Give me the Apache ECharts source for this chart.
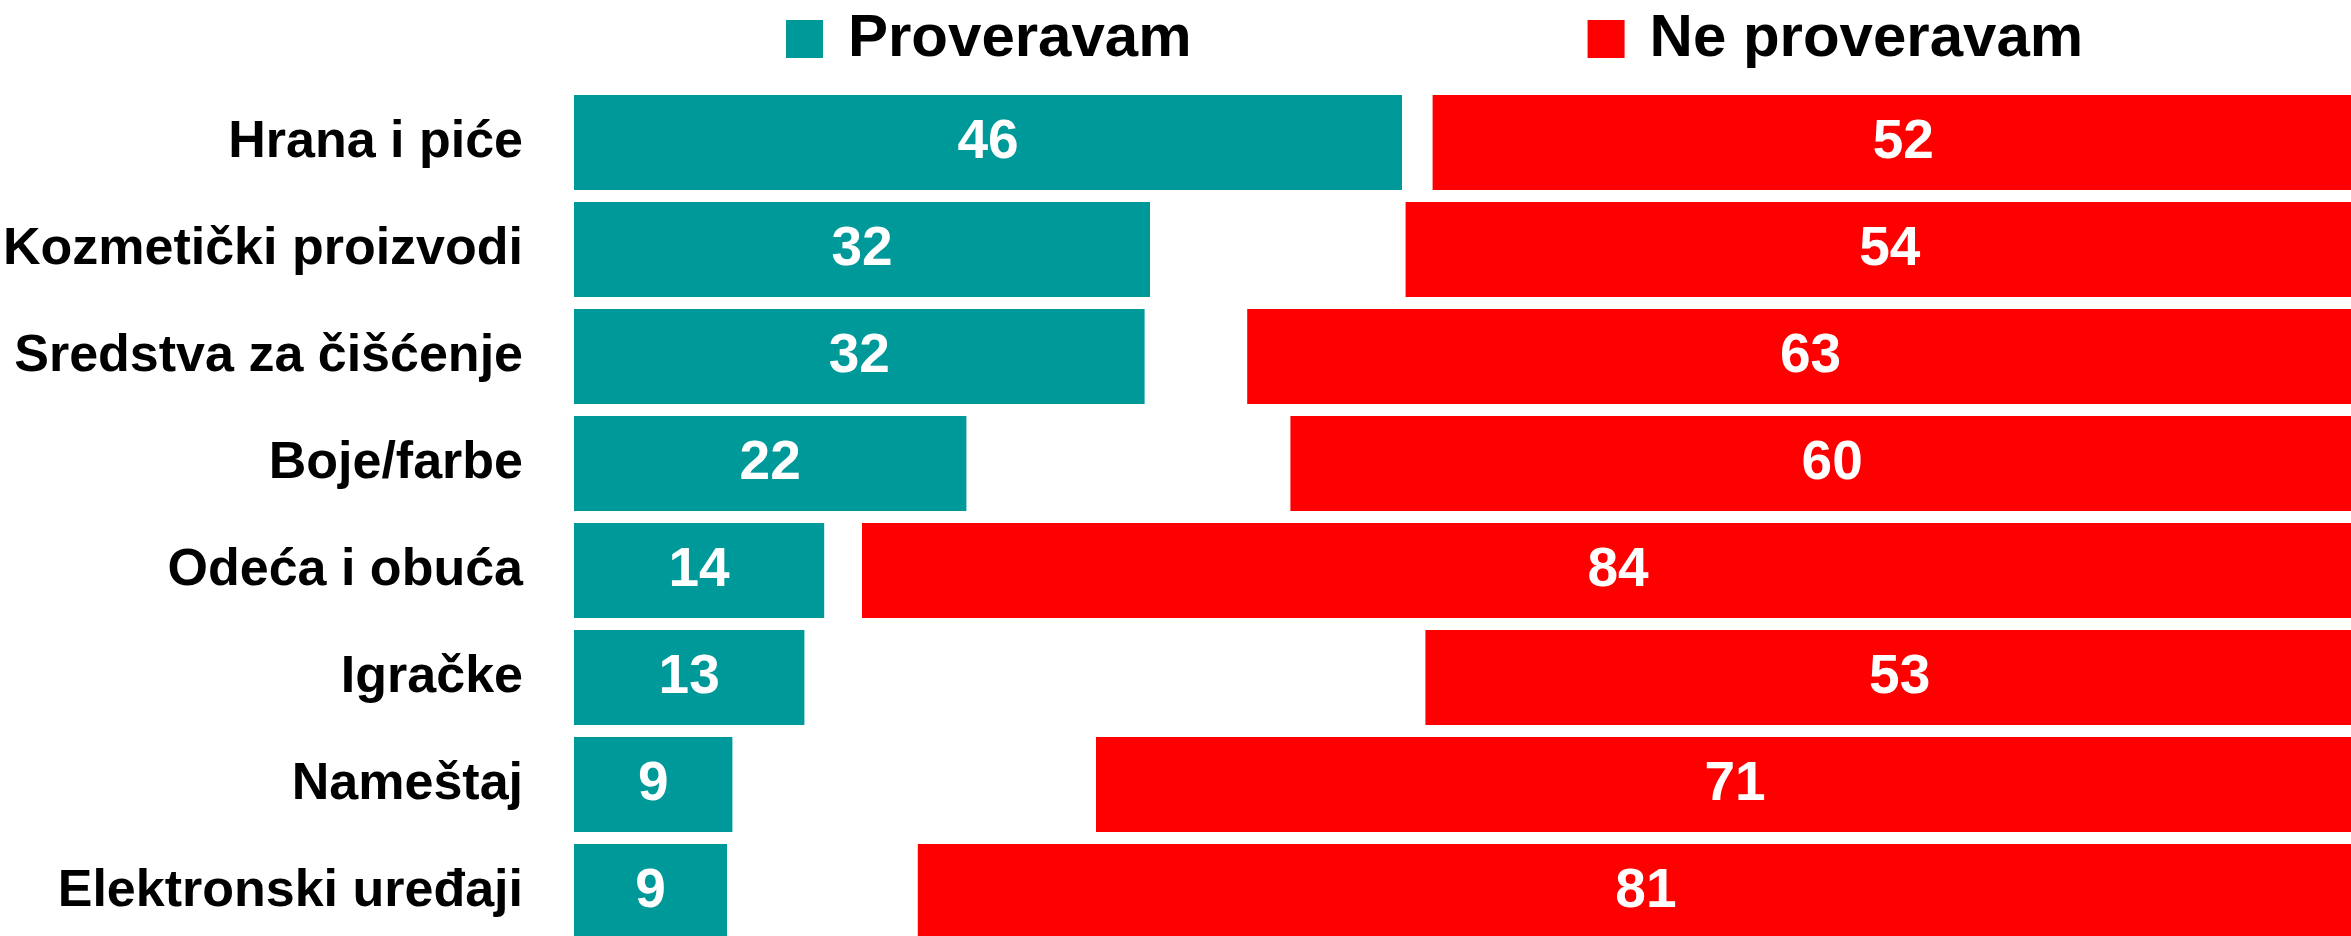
<!DOCTYPE html>
<html>
<head>
<meta charset="utf-8">
<script src="https://cdn.jsdelivr.net/npm/echarts@6/dist/echarts.min.js"></script>
<style>
  html, body { margin: 0; padding: 0; background: #fff; }
  #chart { width: 2351px; height: 936px; }
</style>
</head>
<body>
<div id="chart"></div>
<script>
// categories top to bottom
const categories = [
    'Hrana i piće',
    'Kozmetički proizvodi',
    'Sredstva za čišćenje',
    'Boje/farbe',
    'Odeća i obuća',
    'Igračke',
    'Nameštaj',
    'Elektronski uređaji'
];
// share in % (labels are rounded)
const proveravam = [46, 32, 31.7, 21.8, 13.9, 12.8, 8.8, 8.5];
const neProveravam = [52.3, 53.8, 62.6, 60.2, 84, 52.7, 71, 80.9];

const TEAL = '#009999';
const RED = '#ff0000';
const FONT = '"Liberation Sans", Arial, sans-serif';

let ec = echarts.init(document.getElementById('chart'));

let valueLabel = {
    show: true,
    position: 'inside',
    color: '#fff',
    fontFamily: FONT,
    fontWeight: 'bold',
    fontSize: 55,
    formatter: p => Math.round(p.value)
};

ec.setOption({
    animation: false,
    legend: {
        left: 781,
        top: 4,
        itemWidth: 37,
        itemHeight: 38,
        itemGap: 396,
        icon: 'rect',
        textStyle: {
            fontFamily: FONT,
            fontWeight: 'bold',
            fontSize: 60,
            color: '#000',
            padding: [0, 0, 0, 20]
        },
        data: ['Proveravam', 'Ne proveravam']
    },
    // plot runs a little past the right and bottom edges, like the original
    grid: { left: 574, top: 89, width: 1800, height: 856, outerBoundsMode: 'none' },
    xAxis: [
        { type: 'value', min: 0, max: 100, show: false, splitLine: { show: false } },
        // red bars hang from the right edge
        { type: 'value', min: 0, max: 100, inverse: true, show: false, splitLine: { show: false } }
    ],
    yAxis: {
        type: 'category',
        inverse: true,
        data: categories,
        axisLine: { show: false },
        axisTick: { show: false },
        axisLabel: {
            margin: 51,
            color: '#000',
            fontFamily: FONT,
            fontWeight: 'bold',
            fontSize: 52
        }
    },
    series: [
        {
            name: 'Proveravam',
            type: 'bar',
            xAxisIndex: 0,
            data: proveravam,
            barCategoryGap: '11%',
            barGap: '-100%',
            itemStyle: { color: TEAL },
            label: valueLabel
        },
        {
            name: 'Ne proveravam',
            type: 'bar',
            xAxisIndex: 1,
            data: neProveravam,
            barCategoryGap: '11%',
            barGap: '-100%',
            itemStyle: { color: RED },
            label: valueLabel
        }
    ]
});
</script>
</body>
</html>
